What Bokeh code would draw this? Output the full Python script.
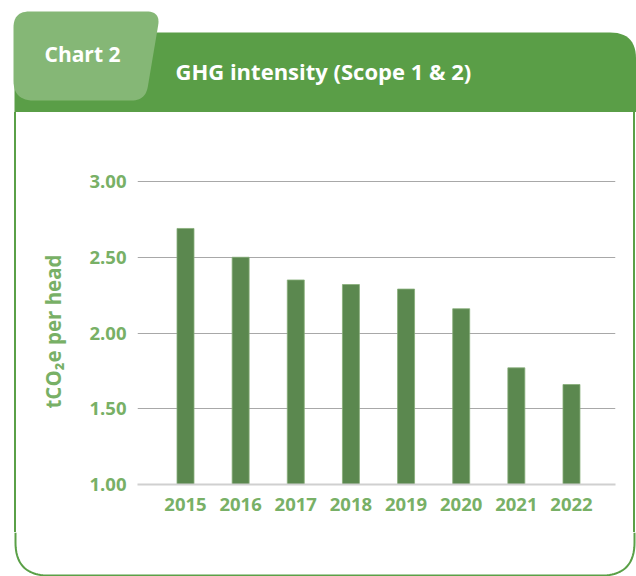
import numpy as np
from bokeh.plotting import figure
from bokeh.layouts import column, row
from bokeh.models import Range1d, FixedTicker, NumeralTickFormatter, Spacer
from bokeh.core.properties import value
from bokeh.embed import file_html
from bokeh.resources import INLINE

# ---- data ----
years = [2015, 2016, 2017, 2018, 2019, 2020, 2021, 2022]
intensity = [2.69, 2.50, 2.35, 2.32, 2.29, 2.16, 1.77, 1.66]
y_ticks = [1.0, 1.5, 2.0, 2.5, 3.0]
chart_tag = "Chart 2"
chart_title = "GHG intensity (Scope 1 & 2)"
y_label = "tCO\u2082e per head"

# ---- style ----
BAND = "#5a9e47"
TAB = "#85b776"
BORDER = "#5aa047"
LABEL = "#78b066"
BAR = "#5b884f"
GRID = "#a8a8a8"
AXIS = "#d0d0d0"
FONT = "Open Sans"

W = 636


def rounded(pts, radii, n=14):
    xs, ys = [], []
    m = len(pts)
    for i in range(m):
        p0 = np.array(pts[i - 1], float)
        p1 = np.array(pts[i], float)
        p2 = np.array(pts[(i + 1) % m], float)
        r = radii[i]
        if r <= 0:
            xs.append(p1[0]); ys.append(p1[1])
            continue
        d1 = (p0 - p1) / np.linalg.norm(p0 - p1)
        d2 = (p2 - p1) / np.linalg.norm(p2 - p1)
        a = p1 + d1 * r
        b = p1 + d2 * r
        for t in np.linspace(0, 1, n):
            q = (1 - t) ** 2 * a + 2 * (1 - t) * t * p1 + t ** 2 * b
            xs.append(q[0]); ys.append(q[1])
    return xs, ys


def blank(width, height):
    f = figure(width=width, height=height, output_backend="svg", toolbar_location=None,
               x_range=Range1d(0, width), y_range=Range1d(height, 0),
               min_border=0, outline_line_color=None,
               background_fill_color="white", border_fill_color="white")
    f.axis.visible = False
    f.grid.visible = False
    return f

# ---- header ----
HH = 112
H = blank(W, HH)
bx, by = rounded([(14, 112), (14, 32), (635.5, 32), (635.5, 112)], [0, 0, 26, 0])
H.patch(bx, by, fill_color=BAND, line_color=None)
tx, ty = rounded([(13, 11), (160, 11), (145, 100), (13, 100)], [16, 14, 14, 20])
H.patch(tx, ty, fill_color=TAB, line_color=None)
H.text(x=[44], y=[53], text=[chart_tag], text_color="white", text_font=value(FONT),
       text_font_style="bold", text_font_size=value("21px"), text_baseline="middle")
H.text(x=[175], y=[70], text=[chart_title], text_color="white", text_font=value(FONT),
       text_font_style="bold", text_font_size=value("22px"), text_baseline="middle")

# ---- body ----
BH = 420
px_per_year = 55.14
x_left = 2015 - 48 / px_per_year
x_right = x_left + 478 / px_per_year
y_top = 3.0 + 3 / 151.5

C = figure(width=617, height=BH, output_backend="svg", toolbar_location=None,
           x_range=Range1d(x_left, x_right), y_range=Range1d(1.0, y_top),
           min_border_left=121, min_border_right=18, min_border_top=66, min_border_bottom=48,
           outline_line_color=None, background_fill_color="white", border_fill_color="white")
C.vbar(x=years, top=intensity, bottom=1.0, width=0.308, fill_color=BAR,
       line_color="#86ad79", line_width=0.8)

C.xgrid.visible = False
C.ygrid.ticker = FixedTicker(ticks=y_ticks[1:])
C.ygrid.grid_line_color = GRID
C.ygrid.grid_line_width = 1

C.yaxis.ticker = FixedTicker(ticks=y_ticks)
C.yaxis.formatter = NumeralTickFormatter(format="0.00")
C.xaxis.ticker = FixedTicker(ticks=years)
for ax in (C.xaxis, C.yaxis):
    ax.major_tick_line_color = None
    ax.minor_tick_line_color = None
    ax.major_tick_out = 0
    ax.major_tick_in = 0
    ax.major_label_text_color = LABEL
    ax.major_label_text_font = FONT
    ax.major_label_text_font_style = "bold"
    ax.major_label_text_font_size = "18.5px"
C.yaxis.axis_line_color = None
C.xaxis.axis_line_color = AXIS
C.xaxis.axis_line_width = 2
C.yaxis.major_label_standoff = 11
C.xaxis.major_label_standoff = 13
C.yaxis.axis_label = y_label
C.yaxis.axis_label_text_color = LABEL
C.yaxis.axis_label_text_font = FONT
C.yaxis.axis_label_text_font_style = "bold"
C.yaxis.axis_label_text_font_size = "20.5px"
C.yaxis.axis_label_standoff = 19

left_gap = Spacer(width=14, height=BH)
left_line = Spacer(width=2, height=BH, styles={"background-color": BORDER})
right_line = Spacer(width=2, height=BH, styles={"background-color": BORDER})
right_gap = Spacer(width=1, height=BH)

# ---- bottom ----
BB = 44
B = blank(W, BB)
lx, ly = rounded([(15, 0), (15, 43), (634, 43), (634, 0)], [0, 33, 33, 0], n=24)
B.line(lx, ly, line_color=BORDER, line_width=2)

layout = column(H, row(left_gap, left_line, C, right_line, right_gap), B)
open("out.html", "w").write(file_html(layout, INLINE))
